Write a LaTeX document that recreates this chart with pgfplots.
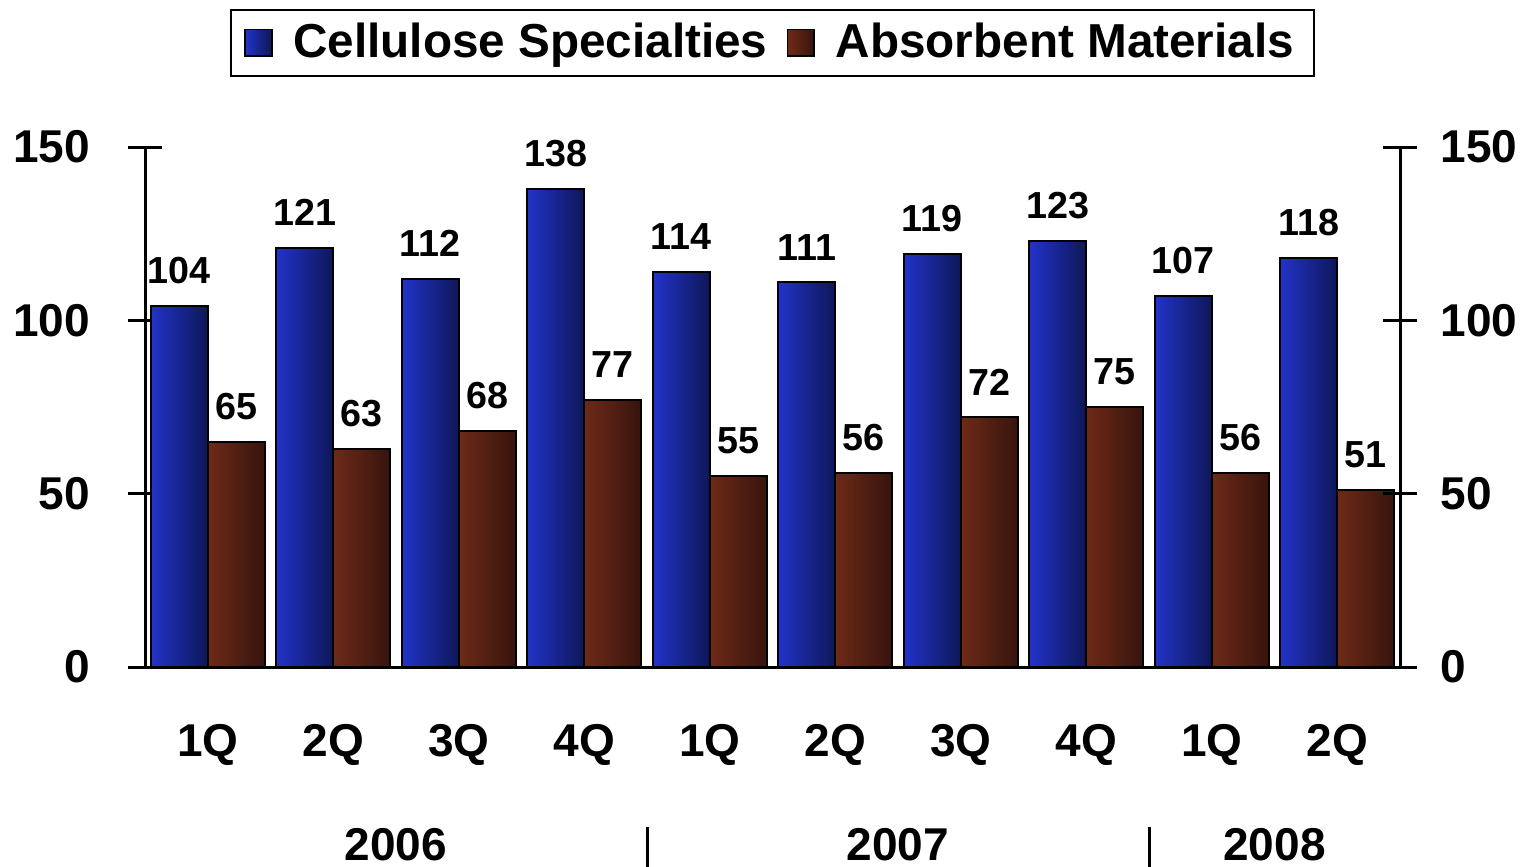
\documentclass[border=0pt]{standalone}
\usepackage{fontspec}
\setmainfont{Liberation Sans}
\usepackage{pgfplots}
\pgfplotsset{compat=1.18}
\pgfplotsset{/pgf/number format/assume math mode=true}

\definecolor{bluel}{HTML}{2233C8}
\definecolor{blued}{HTML}{0E1758}
\definecolor{brownl}{HTML}{6E2A18}
\definecolor{brownd}{HTML}{36140D}

\newcommand{\bigf}{\fontsize{13.8}{16}\selectfont\bfseries}
\newcommand{\legf}{\fontsize{14.3}{16}\selectfont\bfseries}
\newcommand{\smallf}{\fontsize{11.3}{13}\selectfont\bfseries}

% one \addplot per bar so that every bar gets its own gradient
\pgfplotsset{
  cs/.style={ybar, bar width=17.1pt, bar shift=-8.55pt, draw=black, line width=0.6pt,
    left color=bluel, right color=blued, forget plot,
    every node near coord/.append style={xshift=-8.55pt}},
  am/.style={ybar, bar width=17.1pt, bar shift=8.55pt, draw=black, line width=0.6pt,
    left color=brownl, right color=brownd, forget plot,
    every node near coord/.append style={xshift=8.55pt}},
}

\begin{document}
\begin{tikzpicture}
\begin{axis}[
  scale only axis, width=376.5pt, height=156pt,
  xmin=-0.5, xmax=9.5, ymin=0, ymax=150,
  axis x line*=bottom, axis y line*=left,
  axis line style={line width=0.9pt, black},
  ytick={0,50,100,150},
  major tick length=10pt, tick align=center,
  y tick style={line width=0.9pt, black},
  xtick={0,...,9},
  xticklabels={1Q,2Q,3Q,4Q,1Q,2Q,3Q,4Q,1Q,2Q},
  x tick style={draw=none},
  xticklabel style={font=\bigf, anchor=base, yshift=-21.7pt},
  yticklabel style={font=\bigf, xshift=-8pt},
  nodes near coords,
  every node near coord/.append style={font=\smallf, text=black, yshift=3pt},
  clip=false,
  legend columns=2,
  legend style={at={(0.5,1)}, anchor=south, yshift=21pt,
    draw=black, line width=0.6pt, font=\legf,
    inner xsep=4pt, inner ysep=2pt,
    /tikz/every odd column/.append style={column sep=4.2pt},
    /tikz/every even column/.append style={column sep=3.8pt}},
]
\addlegendimage{legend image code/.code={\draw[draw=black, line width=0.5pt, left color=bluel, right color=blued] (0pt,-4pt) rectangle (8pt,4pt);}}
\addlegendentry{Cellulose Specialties}
\addlegendimage{legend image code/.code={\draw[draw=black, line width=0.5pt, left color=brownl, right color=brownd] (0pt,-4pt) rectangle (8pt,4pt);}}
\addlegendentry{Absorbent Materials}

\addplot[cs] coordinates {(0,104)};
\addplot[cs] coordinates {(1,121)};
\addplot[cs] coordinates {(2,112)};
\addplot[cs] coordinates {(3,138)};
\addplot[cs] coordinates {(4,114)};
\addplot[cs] coordinates {(5,111)};
\addplot[cs] coordinates {(6,119)};
\addplot[cs] coordinates {(7,123)};
\addplot[cs] coordinates {(8,107)};
\addplot[cs] coordinates {(9,118)};

\addplot[am] coordinates {(0,65)};
\addplot[am] coordinates {(1,63)};
\addplot[am] coordinates {(2,68)};
\addplot[am] coordinates {(3,77)};
\addplot[am] coordinates {(4,55)};
\addplot[am] coordinates {(5,56)};
\addplot[am] coordinates {(6,72)};
\addplot[am] coordinates {(7,75)};
\addplot[am] coordinates {(8,56)};
\addplot[am] coordinates {(9,51)};

\coordinate (bl) at (rel axis cs:0,0);
\coordinate (tr) at (rel axis cs:1,1);
\node[anchor=base, font=\bigf] at ([yshift=-57.9pt]axis cs:1.5,0) {2006};
\node[anchor=base, font=\bigf] at ([yshift=-57.9pt]axis cs:5.5,0) {2007};
\node[anchor=base, font=\bigf] at ([yshift=-57.9pt]axis cs:8.5,0) {2008};
\draw[line width=0.9pt] ([yshift=-48pt]axis cs:3.5,0) -- ([yshift=-62pt]axis cs:3.5,0);
\draw[line width=0.9pt] ([yshift=-48pt]axis cs:7.5,0) -- ([yshift=-62pt]axis cs:7.5,0);
\end{axis}
\begin{axis}[
  scale only axis, width=376.5pt, height=156pt,
  xmin=-0.5, xmax=9.5, ymin=0, ymax=150,
  hide x axis, axis y line*=right,
  axis line style={line width=0.9pt, black},
  ytick={0,50,100,150},
  major tick length=10pt, tick align=center,
  y tick style={line width=0.9pt, black},
  yticklabel style={font=\bigf, xshift=3.6pt},
]
\end{axis}
\pgfresetboundingbox
\path ([xshift=-43.5pt,yshift=-59.7pt]bl) rectangle ([xshift=38.4pt,yshift=44.1pt]tr);
\end{tikzpicture}
\end{document}
